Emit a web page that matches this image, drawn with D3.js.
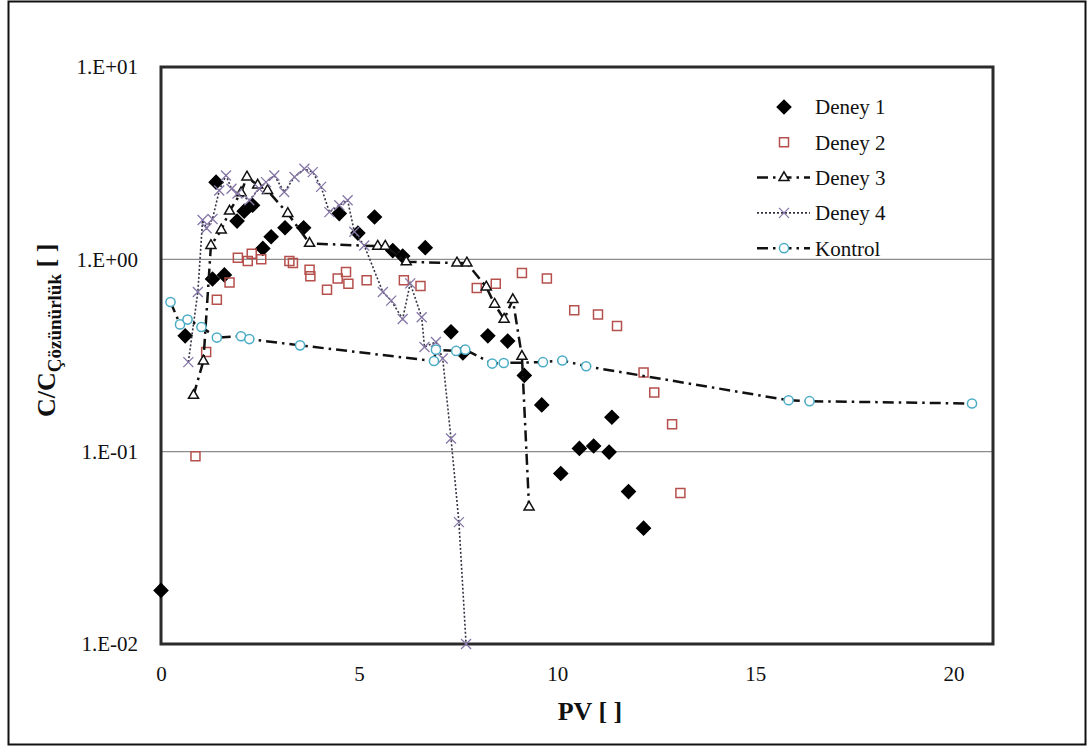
<!DOCTYPE html>
<html>
<head>
<meta charset="utf-8">
<script src="https://cdn.jsdelivr.net/npm/d3@7"></script>
<style>
    body { margin: 0; background: #fff; }
    svg { display: block; }
    svg text { font-family: "Times New Roman", "Liberation Serif", Times, serif; }
</style>
</head>
<body>
<div id="chart-container"></div>
<script>
// [PV, C/C] pairs
const deney1 = [
    [0, 0.019], [0.61, 0.40], [1.30, 0.79], [1.39, 2.52], [1.60, 0.83], [1.92, 1.58],
    [2.10, 1.78], [2.31, 1.91], [2.57, 1.14], [2.78, 1.31], [3.13, 1.46], [3.60, 1.46],
    [4.50, 1.73], [4.97, 1.37], [5.39, 1.66], [5.85, 1.11], [6.10, 1.04], [6.67, 1.15],
    [7.32, 0.42], [7.62, 0.326], [8.25, 0.40], [8.75, 0.376], [9.17, 0.249], [9.61, 0.175],
    [10.09, 0.077], [10.56, 0.104], [10.92, 0.107], [11.31, 0.0995], [11.38, 0.151],
    [11.80, 0.062], [12.18, 0.040]
];
const deney2 = [
    [0.87, 0.0946], [1.14, 0.33], [1.41, 0.617], [1.73, 0.757], [1.94, 1.02], [2.19, 0.98],
    [2.29, 1.07], [2.53, 1.0], [3.24, 0.98], [3.33, 0.957], [3.75, 0.884], [3.77, 0.816],
    [4.19, 0.695], [4.46, 0.794], [4.67, 0.859], [4.73, 0.747], [5.19, 0.778], [6.13, 0.778],
    [6.55, 0.727], [7.97, 0.709], [8.45, 0.747], [9.11, 0.849], [9.74, 0.794], [10.43, 0.543],
    [11.03, 0.516], [11.51, 0.45], [12.18, 0.258], [12.45, 0.203], [12.90, 0.139], [13.11, 0.061]
];
const deney3 = [
    [0.82, 0.196], [1.07, 0.296], [1.26, 1.18], [1.52, 1.42], [1.73, 1.78], [2.02, 2.22],
    [2.17, 2.68], [2.44, 2.43], [2.69, 2.28], [3.20, 1.73], [3.75, 1.21], [5.47, 1.17],
    [5.66, 1.17], [6.19, 0.97], [7.47, 0.957], [7.72, 0.957], [8.21, 0.718], [8.42, 0.584],
    [8.66, 0.488], [8.88, 0.617], [9.11, 0.313], [9.29, 0.0515]
];
const deney4 = [
    [0.69, 0.292], [0.93, 0.676], [1.05, 1.60], [1.15, 1.45], [1.30, 1.62], [1.47, 2.28],
    [1.64, 2.73], [1.78, 2.33], [1.93, 2.2], [2.23, 2.03], [2.48, 2.33], [2.65, 2.52],
    [2.86, 2.73], [3.11, 2.24], [3.37, 2.68], [3.62, 2.96], [3.83, 2.84], [4.04, 2.38],
    [4.25, 1.76], [4.50, 1.91], [4.71, 2.03], [4.88, 1.39], [5.13, 1.18], [5.60, 0.676],
    [5.81, 0.61], [6.10, 0.49], [6.29, 0.75], [6.58, 0.50], [6.65, 0.35], [6.94, 0.372],
    [7.11, 0.305], [7.32, 0.117], [7.52, 0.043], [7.70, 0.01]
];
const kontrol = [
    [0.24, 0.60], [0.48, 0.459], [0.67, 0.486], [1.02, 0.445], [1.41, 0.392], [2.02, 0.398],
    [2.23, 0.385], [3.51, 0.357], [6.89, 0.296], [6.94, 0.339], [7.45, 0.334], [7.68, 0.339],
    [8.36, 0.287], [8.65, 0.289], [9.64, 0.292], [10.13, 0.298], [10.73, 0.278],
    [15.84, 0.185], [16.37, 0.183], [20.47, 0.178]
];

const seriesNames = ["Deney 1", "Deney 2", "Deney 3", "Deney 4", "Kontrol"];
const seriesData = [deney1, deney2, deney3, deney4, kontrol];
const xTicks = [0, 5, 10, 15, 20];
const yTicks = [0.01, 0.1, 1, 10];
const gridValues = [0.1, 1];

const SERIF = "'Times New Roman', 'Liberation Serif', Times, serif";

document.addEventListener('DOMContentLoaded', function () {
    renderChart(document.getElementById('chart-container'));
});

function renderChart(container) {
    const width = 1091;
    const height = 747;
    const plot = { left: 161, top: 67, right: 993, bottom: 644 };

    const svg = d3.select(container).append("svg")
        .attr("width", width)
        .attr("height", height)
        .attr("font-family", SERIF);

    svg.append("rect")
        .attr("width", width).attr("height", height)
        .attr("fill", "#fff");

    // outer border of the picture
    svg.append("rect")
        .attr("x", 8.5).attr("y", 1.5)
        .attr("width", 1077).attr("height", 743)
        .attr("fill", "none")
        .attr("stroke", "#111")
        .attr("stroke-width", 2);

    const x = d3.scaleLinear().domain([0, 21]).range([plot.left, plot.right]);
    const y = d3.scaleLog().domain([0.01, 10]).range([plot.bottom, plot.top]);

    svg.append("g")
        .selectAll("line")
        .data(gridValues)
        .join("line")
        .attr("x1", plot.left).attr("x2", plot.right)
        .attr("y1", d => y(d)).attr("y2", d => y(d))
        .attr("stroke", "#8c8c8c")
        .attr("stroke-width", 1.2);

    const xAxis = svg.append("g")
        .attr("transform", `translate(0,${plot.bottom})`)
        .call(d3.axisBottom(x).tickValues(xTicks).tickSize(0).tickPadding(22).tickFormat(d3.format("d")));
    xAxis.select(".domain").remove();

    const yFormat = d => {
        const e = Math.round(Math.log10(d));
        return "1.E" + (e < 0 ? "-" : "+") + String(Math.abs(e)).padStart(2, "0");
    };
    const yAxis = svg.append("g")
        .attr("transform", `translate(${plot.left},0)`)
        .call(d3.axisLeft(y).tickValues(yTicks).tickSize(0).tickPadding(23).tickFormat(yFormat));
    yAxis.select(".domain").remove();

    [xAxis, yAxis].forEach(a => {
        a.attr("font-family", SERIF).attr("font-size", 21);
        a.selectAll("text").attr("fill", "#111").attr("font-family", SERIF);
    });

    svg.append("rect")
        .attr("x", plot.left).attr("y", plot.top)
        .attr("width", plot.right - plot.left)
        .attr("height", plot.bottom - plot.top)
        .attr("fill", "none")
        .attr("stroke", "#2b2b2b")
        .attr("stroke-width", 3);

    // axis titles
    svg.append("text")
        .attr("x", 590).attr("y", 720)
        .attr("text-anchor", "middle")
        .attr("font-family", SERIF)
        .attr("font-size", 26)
        .attr("font-weight", "bold")
        .attr("fill", "#111")
        .text("PV [ ]");

    const yTitle = svg.append("text")
        .attr("transform", "translate(55,417) rotate(-90)")
        .attr("font-family", SERIF)
        .attr("font-weight", "bold")
        .attr("font-size", 26)
        .attr("fill", "#111");
    yTitle.append("tspan").text("C/C");
    yTitle.append("tspan").attr("font-size", 19).attr("dy", 6).text("Çözünürlük");
    yTitle.append("tspan").attr("dy", -6).text(" [ ]");

    const styles = [
        { marker: "diamond", stroke: "#000", fill: "#000", line: null },
        { marker: "square", stroke: "#b5504d", fill: "none", line: null },
        { marker: "triangle", stroke: "#111", fill: "#fff",
          line: { stroke: "#111", width: 2.5, dash: "11,5,2.5,5" } },
        { marker: "cross", stroke: "#8677a6", fill: "none",
          line: { stroke: "#333344", width: 1.6, dash: "2,2" } },
        { marker: "circle", stroke: "#4bacc6", fill: "#fff",
          line: { stroke: "#111", width: 2.5, dash: "11,5,2.5,5" } }
    ];

    function markerPath(type) {
        if (type === "diamond") return d3.symbol(d3.symbolSquare, 92)();
        if (type === "square") return d3.symbol(d3.symbolSquare, 81)();
        if (type === "triangle") return d3.symbol(d3.symbolTriangle, 44)();
        if (type === "circle") return d3.symbol(d3.symbolCircle, 66)();
        return "M-5,-5L5,5M-5,5L5,-5";
    }

    function addMarker(g, st, cx, cy) {
        g.append("path")
            .attr("d", markerPath(st.marker))
            .attr("transform", `translate(${cx},${cy})` + (st.marker === "diamond" ? " rotate(45)" : ""))
            .attr("fill", st.fill)
            .attr("stroke", st.stroke)
            .attr("stroke-width", st.marker === "cross" ? 1.3 : 1.5);
    }

    const line = d3.line()
        .x(d => x(d[0]))
        .y(d => y(d[1]));

    seriesData.forEach((data, i) => {
        const st = styles[i];
        const g = svg.append("g").attr("class", "series");
        if (st.line) {
            g.append("path")
                .datum(data)
                .attr("d", line)
                .attr("fill", "none")
                .attr("stroke", st.line.stroke)
                .attr("stroke-width", st.line.width)
                .attr("stroke-dasharray", st.line.dash);
        }
        data.forEach(d => addMarker(g, st, x(d[0]), y(d[1])));
    });

    // legend
    const legend = svg.append("g");
    seriesNames.forEach((name, i) => {
        const st = styles[i];
        const cy = 107 + i * 35.3;
        if (st.line) {
            legend.append("line")
                .attr("x1", 757).attr("x2", 810)
                .attr("y1", cy).attr("y2", cy)
                .attr("stroke", st.line.stroke)
                .attr("stroke-width", st.line.width)
                .attr("stroke-dasharray", st.line.dash);
        }
        addMarker(legend, st, 784, cy);
        legend.append("text")
            .attr("x", 815).attr("y", cy)
            .attr("dy", "0.35em")
            .attr("font-family", SERIF)
            .attr("font-size", 21)
            .attr("fill", "#111")
            .text(name);
    });
}
</script>
</body>
</html>
